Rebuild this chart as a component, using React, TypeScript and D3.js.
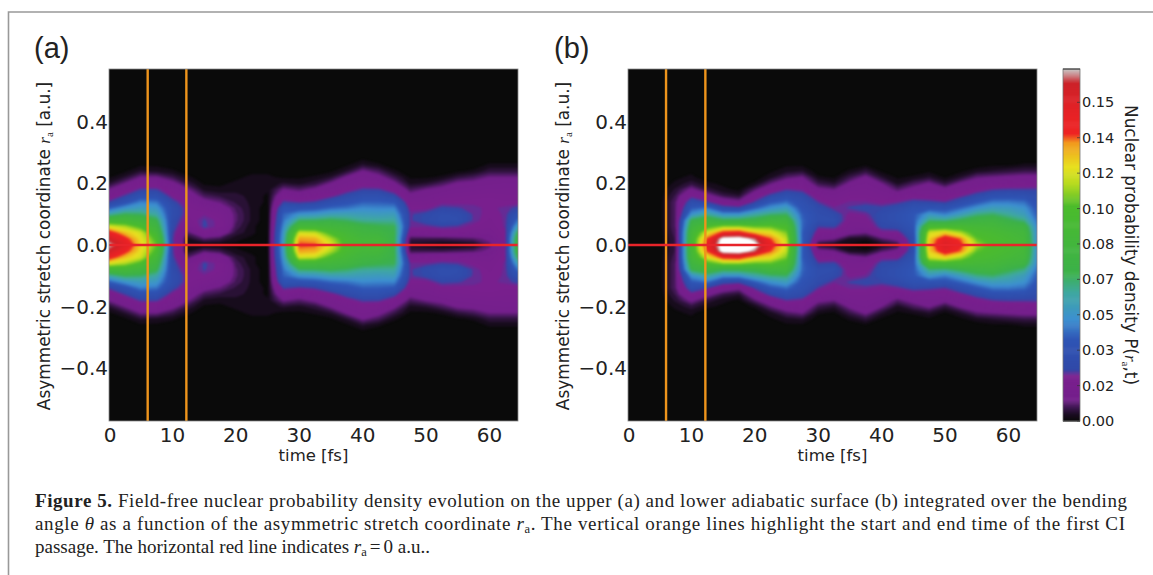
import React from "react";
import * as d3 from "d3";

// Density, in units of 1e-3.
// One list per time, each entry is |r_a| = 0, 0.02, 0.04 ... (missing = 0).
const timesFs = [0,2.5,5,7.5,10,12.5,15,17.5,20,22.5,25,27.5,30,32.5,35,37.5,40,42.5,45,47.5,50,52.5,55,57.5,60,62.5,65];
const radiiAbs = [0,0.02,0.04,0.06,0.08,0.1,0.12,0.14,0.16,0.18,0.2,0.22,0.24,0.26,0.28,0.3];

const panelAColumns = [
  [170,160,145,120,90,60,40,24,15,10,4,1],
  [152,142,128,113,90,70,50,34,24,16,10,4,1],
  [125,122,118,100,85,68,55,46,33,24,16,10,4,1],
  [105,100,90,80,72,60,52,44,32,24,16,10,3,1],
  [25,24,25,27,28,30,30,26,20,16,12,6,2],
  [2,3,8,14,18,20,20,18,14,10,5,2],
  [1,8,18,24.5,24,21,17,12,7,3,1],
  [1,6,15,20,20,18,14,9,5,2,1],
  [1,2,5,7,8,8,7,5,4,3,2,1],
  [1,1,2,2,3,3,3,3,3,3,3,2,1],
  [0,0,0,0,0,0,0,1,1,2,2,2,1],
  [55,54,52,48,44,41,35,24,17,10,4,1],
  [138,132,118,90,68,50,35,22,14,8,3,1],
  [137,130,116,90,69,52,37,24,16,11,5,2],
  [120,113,100,85,72,56,42,31,20,14,10.5,4,1],
  [98,96,90,82,68,57,44,35,27,19,14,11,4,1],
  [90,88,82,75,63,55,48,40,32,24,18,14,10.5,4,1],
  [90,88,80,72,62,54,47,40,32,24,17,12,7,2],
  [72,72,72,70,62,55,47,38,26,18,11,6,2],
  [3,6,15,22,23,23,20,16,12,7,3,1],
  [2,6,16,22,27,26,20,16,13,10,4,1],
  [1,6,18,24,31,30,25,20,16,12,7,2],
  [1,7,18,23,30,29,24,20,17,14,11,5,1],
  [2,8,16,20,23,23,22,21,18,15,12,7,2],
  [8,11,16,18,19,20,21,21,19,16,13,10,5,2],
  [20,21,21,22,22,22,22,20,18,16,14,10,5,2],
  [100,98,85,65,50,37,26,20,18,16,14,10,5,2],
];

const panelBColumns = [
  [],
  [],
  [],
  [6,6,7,8,8,8,8,8,6,4,2,1],
  [90,90,88,80,72,50,39,30,20,11,5,2,1],
  [145,138,120,100,80,62,44,24,12,5,2],
  [180,176,142,110,72,50,28,15,6,2,1],
  [182,178,145,110,73,50,26,11,4,1],
  [175,165,128,105,75,60,40,24,16,8,2],
  [145,137,122,105,85,66,50,38,26,16,9,3,1],
  [118,115,108,98,85,68,55,43,32,23,15,8,3,1],
  [40,40,40,42,42,40,36,33,28,21,15,10,4,1],
  [4,12,18,24,30,30,28,23,17,11.5,6,2],
  [2,10,18,25,30,27,22,18,14,9.5,4,1],
  [1,3,12,16,18,20,24,22,18,15,11,6,2],
  [0,2,10,16,19,22,26,22,18,16,14,11,5,1],
  [2,8,20,26,28,28,25,20,16,13,10,4,1],
  [5,12,20,28,32,32,28,22,14,8,3,1],
  [28,30,33,36,38,38,34,26,18,12,7,2],
  [128,125,118,95,66,52,36,25,17,13,10.5,4,1],
  [155,148,125,95,65,46,35,23,17,12,5,1],
  [140,135,113,95,72,55,42,30,21,15,11,4,1],
  [113,105,98,90,78,65,50,38,27,19,13,9,3],
  [100,99,95,88,80,68,55,45,33,23,15,10,4,1],
  [95,94,90,82,72,62,54,45,34,24,16,11,5,1],
  [90,88,85,78,65,55,50,43,33,24,17,12,6,2],
  [40,40,40,40,38,36,34,31,28,24,18,12,6,2],
];

const colorStopValues = [0,3,6,10.4,21.6,24.8,39,48.8,61.6,71.2,103,114,122,133.5,138,148,162,169];
const colorStopHexes = ["#0a0a0a","#1a0c20","#38164a","#741f8c","#7a1f8e","#3049a8","#2f55b5","#3d90d0","#3fa8a0","#3cb14a","#4cbc2c","#b8db20","#e8e020","#f29a1e","#ee2424","#e62226","#cc2229","#c8c8c8"];
const barTickValues = [0,17,34,51,68,85,102,119,136,153];
const barTickLabels = ["0.00","0.02","0.03","0.05","0.07","0.08","0.10","0.12","0.14","0.15"];
const xTicks = [0,10,20,30,40,50,60];
const yTicks = [0.4,0.2,0,-0.2,-0.4];
const orangeA = [6.1,12.2];
const orangeB = [6,12.2];

const W = 1153, H = 575, TOP = 69, BOTTOM = 421, TMAX = 64.5, RMAX = 0.572, VMAX = 169;
const color = d3.scaleLinear<string>().domain(colorStopValues).range(colorStopHexes).clamp(true);
const levels = [...d3.range(1.5, 169, 2), 170];
const levelColor = (v: number) => (v >= 170 ? "#ffffff" : color(v + 1));
const sans = "'DejaVu Sans', sans-serif";
const serif = "'Liberation Serif', serif";

function Panel({ id, left, right, columns, orange }: { id: string; left: number; right: number; columns: number[][]; orange: number[] }) {
  const x = d3.scaleLinear().domain([0, TMAX]).range([left, right]);
  const y = d3.scaleLinear().domain([RMAX, -RMAX]).range([TOP, BOTTOM]);
  const nx = timesFs.length, nr = radiiAbs.length, ny = 2 * nr - 1;
  const dt = timesFs[1] - timesFs[0], dr = radiiAbs[1] - radiiAbs[0];
  const values: number[] = [];
  for (let j = 0; j < ny; j++) {
    const k = Math.abs(j - (nr - 1));
    for (let i = 0; i < nx; i++) values.push(columns[i][k] ?? 0);
  }
  const contours = d3.contours().size([nx, ny]).smooth(true).thresholds(levels)(values);
  const projection = d3.geoTransform({
    point(px: number, py: number) {
      (this as any).stream.point(x(timesFs[0] + (px - 0.5) * dt), y(radiiAbs[nr - 1] - (py - 0.5) * dr));
    },
  });
  const path = d3.geoPath(projection);
  return (
    <g>
      <clipPath id={`clip-${id}`}>
        <rect x={left} y={TOP} width={right - left} height={BOTTOM - TOP} />
      </clipPath>
      <rect x={left} y={TOP} width={right - left} height={BOTTOM - TOP} fill="#0a0a0a" />
      <g clipPath={`url(#clip-${id})`}>
        <g filter="url(#soft)">
          {contours.map((c, i) => (
            <path key={i} d={path(c as any) ?? ""} fill={levelColor(c.value)} />
          ))}
        </g>
        {orange.map((t) => (
          <line key={t} x1={x(t)} x2={x(t)} y1={TOP} y2={BOTTOM} stroke="#ee941c" strokeWidth={2.4} />
        ))}
        <line x1={left} x2={right} y1={y(0)} y2={y(0)} stroke="#e8242a" strokeWidth={2.6} />
      </g>
      <rect x={left} y={TOP} width={right - left} height={BOTTOM - TOP} fill="none" stroke="#8a8a8a" strokeWidth={0.8} />
      {xTicks.map((t) => (
        <text key={t} x={x(t) + (t === 0 ? 1 : 0)} y={442} textAnchor="middle" fontFamily={sans} fontSize={20} fill="#222">{t}</text>
      ))}
      {yTicks.map((r) => (
        <text key={r} x={left - 1} y={y(r) + 7} textAnchor="end" fontFamily={sans} fontSize={20} fill="#222">
          {(r < 0 ? "\u2212" : "") + Math.abs(r).toFixed(1)}
        </text>
      ))}
      <text x={(left + right) / 2} y={461} textAnchor="middle" fontFamily={sans} fontSize={16.5} fill="#222">time [fs]</text>
      <text transform={`translate(${left - 59},246) rotate(-90)`} textAnchor="middle" fontFamily={sans} fontSize={16.9} fill="#222">
        Asymmetric stretch coordinate{" "}
        <tspan fontFamily={serif} fontStyle="italic" fontSize={17}>r</tspan>
        <tspan fontFamily={serif} fontSize={11} dy={3}>a</tspan>
        <tspan dy={-3}> [a.u.]</tspan>
      </text>
    </g>
  );
}

function ColorBar() {
  const left = 1063, right = 1080;
  const y = d3.scaleLinear().domain([0, VMAX]).range([BOTTOM, TOP]);
  const steps = d3.range(0, VMAX, 0.5);
  return (
    <g>
      {steps.map((v) => (
        <rect key={v} x={left} y={y(v + 0.5)} width={right - left} height={y(v) - y(v + 0.5) + 0.6} fill={color(v)} />
      ))}
      <rect x={left} y={TOP} width={right - left} height={BOTTOM - TOP} fill="none" stroke="#777" strokeWidth={0.8} />
      <line x1={left} x2={right} y1={TOP} y2={TOP} stroke="#333" strokeWidth={1} />
      {barTickValues.map((v, i) => (
        <g key={v}>
          <line x1={right - 3} x2={right} y1={y(v)} y2={y(v)} stroke="#333" strokeWidth={0.7} />
          <text x={1082} y={y(v) + 5} fontFamily={sans} fontSize={14.5} fill="#222">{barTickLabels[i]}</text>
        </g>
      ))}
      <text transform="translate(1125,245) rotate(90)" textAnchor="middle" fontFamily={sans} fontSize={16.9} fill="#222">
        Nuclear probability density P(
        <tspan fontFamily={serif} fontStyle="italic">r</tspan>
        <tspan fontFamily={serif} fontSize={11} dy={3}>a</tspan>
        <tspan dy={-3}>,t)</tspan>
      </text>
    </g>
  );
}

export default function App() {
  return (
    <svg width={W} height={H} viewBox={`0 0 ${W} ${H}`} style={{ position: "absolute", left: 0, top: 0, display: "block", background: "#fff" }}>
      <defs>
        <filter id="soft" filterUnits="userSpaceOnUse" x="0" y="0" width={W} height={H} colorInterpolationFilters="sRGB">
          <feGaussianBlur stdDeviation="1.1" />
        </filter>
      </defs>
      <polyline points={`${W},12 8.5,12 8.5,${H}`} fill="none" stroke="#999" strokeWidth={1.6} />
      <text x={34} y={58} fontFamily="'Liberation Sans', sans-serif" fontSize={29} fill="#222">(a)</text>
      <text x={554} y={58} fontFamily="'Liberation Sans', sans-serif" fontSize={29} fill="#222">(b)</text>
      <Panel id="a" left={109} right={518} columns={panelAColumns} orange={orangeA} />
      <Panel id="b" left={628} right={1037} columns={panelBColumns} orange={orangeB} />
      <ColorBar />
      <g fontFamily={serif} fontSize={19} fill="#222">
        <text x={35} y={507} textLength={1092} lengthAdjust="spacing">
          <tspan fontWeight="bold">Figure 5.</tspan> Field-free nuclear probability density evolution on the upper (a) and lower adiabatic surface (b) integrated over the bending
        </text>
        <text x={35} y={530} textLength={1090} lengthAdjust="spacing">
          angle <tspan fontStyle="italic">θ</tspan> as a function of the asymmetric stretch coordinate <tspan fontStyle="italic">r</tspan><tspan fontSize={12.5} dy={3}>a</tspan><tspan dy={-3}>. The vertical orange lines highlight the start and end time of the first CI</tspan>
        </text>
        <text x={35} y={553}>
          passage. The horizontal red line indicates <tspan fontStyle="italic">r</tspan><tspan fontSize={12.5} dy={3}>a</tspan><tspan dy={-3} dx={3}>=</tspan><tspan dx={3}>0 a.u..</tspan>
        </text>
      </g>
    </svg>
  );
}
